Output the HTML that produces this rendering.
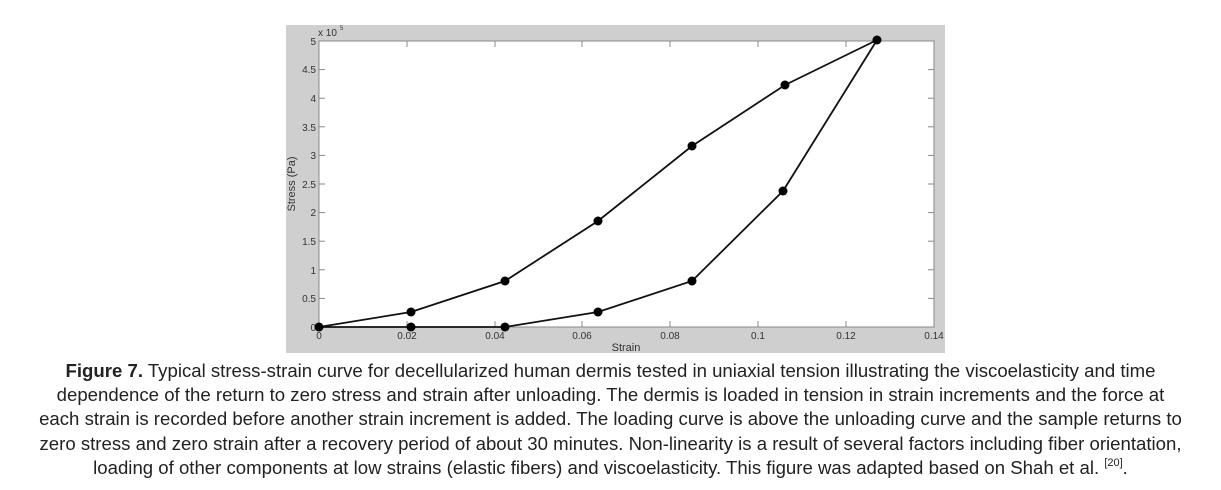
<!DOCTYPE html>
<html><head><meta charset="utf-8"><style>
body{margin:0;width:1221px;height:490px;background:#fff;overflow:hidden;font-family:"Liberation Sans",sans-serif}
.cap{position:absolute;left:0;width:1221px;text-align:center;font-size:18.6px;color:#222;line-height:24.2px;white-space:nowrap}
.cap div{height:24.2px}
.sup{font-size:11px;position:relative;top:-8px}
</style></head><body>
<svg width="1221" height="360" style="position:absolute;left:0;top:0" font-family="Liberation Sans, sans-serif">
<rect x="286" y="25" width="659" height="328" fill="#cfcfcf"/>
<rect x="319" y="41" width="615" height="286" fill="#fff" stroke="#888" stroke-width="1"/>
<g stroke="#888" stroke-width="1">
<line x1="319" y1="327" x2="325" y2="327"/><line x1="319" y1="298.4" x2="325" y2="298.4"/>
<line x1="319" y1="269.8" x2="325" y2="269.8"/><line x1="319" y1="241.2" x2="325" y2="241.2"/>
<line x1="319" y1="212.6" x2="325" y2="212.6"/><line x1="319" y1="184" x2="325" y2="184"/>
<line x1="319" y1="155.4" x2="325" y2="155.4"/><line x1="319" y1="126.8" x2="325" y2="126.8"/>
<line x1="319" y1="98.2" x2="325" y2="98.2"/><line x1="319" y1="69.6" x2="325" y2="69.6"/>
<line x1="934" y1="298.4" x2="928" y2="298.4"/><line x1="934" y1="269.8" x2="928" y2="269.8"/>
<line x1="934" y1="241.2" x2="928" y2="241.2"/><line x1="934" y1="212.6" x2="928" y2="212.6"/>
<line x1="934" y1="184" x2="928" y2="184"/><line x1="934" y1="155.4" x2="928" y2="155.4"/>
<line x1="934" y1="126.8" x2="928" y2="126.8"/><line x1="934" y1="98.2" x2="928" y2="98.2"/>
<line x1="934" y1="69.6" x2="928" y2="69.6"/>
<line x1="407" y1="327" x2="407" y2="321"/><line x1="495" y1="327" x2="495" y2="321"/>
<line x1="582" y1="327" x2="582" y2="321"/><line x1="670" y1="327" x2="670" y2="321"/>
<line x1="758" y1="327" x2="758" y2="321"/><line x1="846" y1="327" x2="846" y2="321"/>
<line x1="407" y1="41" x2="407" y2="47"/><line x1="495" y1="41" x2="495" y2="47"/>
<line x1="582" y1="41" x2="582" y2="47"/><line x1="670" y1="41" x2="670" y2="47"/>
<line x1="758" y1="41" x2="758" y2="47"/><line x1="846" y1="41" x2="846" y2="47"/>
</g>
<g font-size="10" fill="#333" text-anchor="end">
<text x="316" y="331">0</text><text x="316" y="302">0.5</text><text x="316" y="274">1</text>
<text x="316" y="245">1.5</text><text x="316" y="216">2</text><text x="316" y="188">2.5</text>
<text x="316" y="159">3</text><text x="316" y="131">3.5</text><text x="316" y="102">4</text>
<text x="316" y="73">4.5</text><text x="316" y="45">5</text>
</g>
<text x="318" y="36" font-size="10" fill="#333">x 10</text><text x="340" y="30" font-size="6" fill="#333">5</text>
<g font-size="10" fill="#333" text-anchor="middle">
<text x="319" y="339">0</text><text x="407" y="339">0.02</text><text x="495" y="339">0.04</text>
<text x="582" y="339">0.06</text><text x="670" y="339">0.08</text><text x="758" y="339">0.1</text>
<text x="846" y="339">0.12</text><text x="934" y="339">0.14</text>
<text x="626" y="351" font-size="11">Strain</text>
</g>
<text transform="translate(295,184) rotate(-90)" font-size="11" fill="#333" text-anchor="middle">Stress (Pa)</text>
<polyline fill="none" stroke="#111" stroke-width="1.8" points="319,327 411,312 505,281 598,221 692,146 785,85 877,40 783,191 692,281 598,312 505,327 411,327 319,327"/>
<g fill="#000">
<circle cx="319" cy="327" r="4.5"/><circle cx="411" cy="312" r="4.5"/><circle cx="505" cy="281" r="4.5"/>
<circle cx="598" cy="221" r="4.5"/><circle cx="692" cy="146" r="4.5"/><circle cx="785" cy="85" r="4.5"/>
<circle cx="877" cy="40" r="4.5"/><circle cx="783" cy="191" r="4.5"/><circle cx="692" cy="281" r="4.5"/>
<circle cx="598" cy="312" r="4.5"/><circle cx="505" cy="327" r="4.5"/><circle cx="411" cy="327" r="4.5"/>
</g>
</svg>
<div class="cap" style="top:359px">
<div><b>Figure 7.</b> Typical stress-strain curve for decellularized human dermis tested in uniaxial tension illustrating the viscoelasticity and time</div>
<div>dependence of the return to zero stress and strain after unloading. The dermis is loaded in tension in strain increments and the force at</div>
<div>each strain is recorded before another strain increment is added. The loading curve is above the unloading curve and the sample returns to</div>
<div>zero stress and zero strain after a recovery period of about 30 minutes. Non-linearity is a result of several factors including fiber orientation,</div>
<div>loading of other components at low strains (elastic fibers) and viscoelasticity. This figure was adapted based on Shah et al. <span class="sup">[20]</span>.</div>
</div>
</body></html>
